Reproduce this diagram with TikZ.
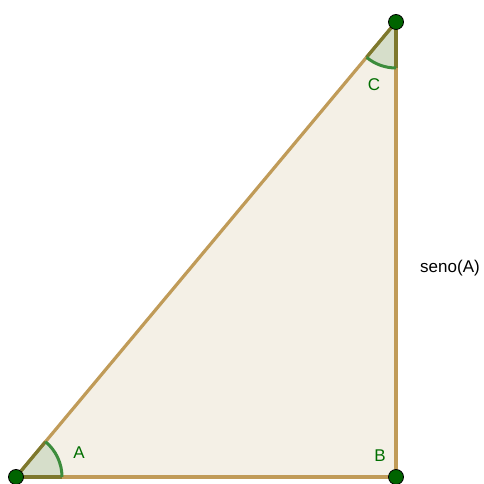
\documentclass[tikz,border=0pt]{standalone}
\usepackage{fontspec}
\setmainfont{Liberation Sans}
\definecolor{edgetan}{RGB}{192,155,88}
\definecolor{trifill}{RGB}{244,240,230}
\definecolor{dotgreen}{RGB}{0,100,0}
\definecolor{arcgreen}{RGB}{60,140,60}
\definecolor{olive}{RGB}{125,120,45}
\definecolor{lblgreen}{RGB}{0,110,0}
\begin{document}
\begin{tikzpicture}[x=1pt,y=1pt,
  vdot/.style={circle,draw=black,fill=dotgreen,line width=0.8pt,minimum size=15pt,inner sep=0pt},
  edge/.style={draw=edgetan,line width=3.2pt},
  inedge/.style={draw=olive,line width=3.2pt},
  anglefill/.style={fill=dotgreen,fill opacity=0.12},
  anglearc/.style={draw=arcgreen,line width=3pt},
  lbl/.style={text=lblgreen,font=\fontsize{17}{19}\selectfont,inner sep=0pt},
  tlbl/.style={text=black,font=\fontsize{17}{19}\selectfont,inner sep=0pt}]
\useasboundingbox (0,0) rectangle (484,484);
\coordinate (a) at (16,7);
\coordinate (b) at (396,7);
\coordinate (c) at (396,462);
\fill[trifill] (a) -- (b) -- (c) -- cycle;
\draw[edge] (a) -- (b);
\draw[edge] (b) -- (c);
\draw[edge] (c) -- (a);
% angle A
\fill[anglefill] (a) -- ++(0:46) arc[start angle=0,end angle=50.13,radius=46] -- cycle;
\draw[inedge] (a) -- ++(0:46);
\draw[inedge] (a) -- ++(50.13:46);
\draw[anglearc] ([shift={(0:46)}]a) arc[start angle=0,end angle=50.13,radius=46];
% angle C
\fill[anglefill] (c) -- ++(230.13:46) arc[start angle=230.13,end angle=270,radius=46] -- cycle;
\draw[inedge] (c) -- ++(230.13:46);
\draw[inedge] (c) -- ++(270:46);
\draw[anglearc] ([shift={(230.13:46)}]c) arc[start angle=230.13,end angle=270,radius=46];
% vertices
\node[vdot] (A) at (a) {};
\node[vdot] (B) at (b) {};
\node[vdot] (C) at (c) {};
% labels
\node[lbl] (la) at (79,31) {A};
\node[lbl] (lb) at (380,28) {B};
\node[lbl] (lc) at (374,399) {C};
\node[tlbl] (ls) at (450,216) {seno(A)};
\end{tikzpicture}
\end{document}
